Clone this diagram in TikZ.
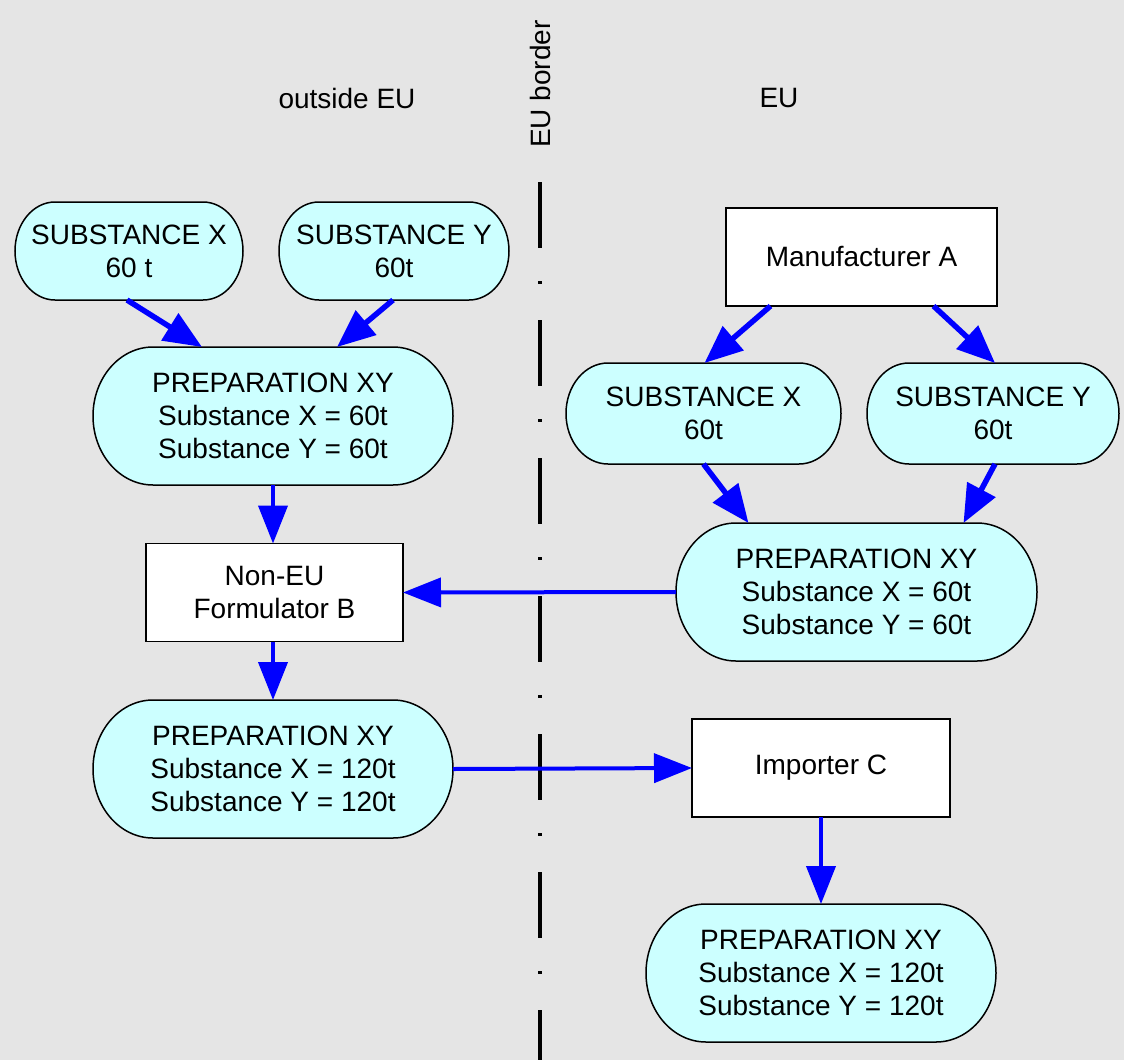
\documentclass[tikz,border=0pt]{standalone}
\usepackage{fontspec}
\setmainfont{Liberation Sans}
\usetikzlibrary{arrows.meta,calc,backgrounds}
\definecolor{bggray}{HTML}{E5E5E5}
\definecolor{lightcyan}{HTML}{CCFFFF}
\definecolor{flowblue}{HTML}{0000FF}
\newcommand\stadbg[2]{%
  \path[stadfill] let \p1=(#1.north west), \p2=(#1.south east), \n1={(\y1-\y2)/2} in
    (\x1+#2,\y1) -- (\x2-#2,\y1)
    arc[start angle=90,end angle=-90,x radius=#2,y radius={\n1*1pt}]
    -- (\x1+#2,\y2)
    arc[start angle=270,end angle=90,x radius=#2,y radius={\n1*1pt}] -- cycle;}
\begin{document}
\begin{tikzpicture}[x=1pt,y=-1pt,
  every node/.style={font=\fontsize{28}{33}\selectfont, align=center, inner sep=0pt, outer sep=0pt},
  stadtext/.style={minimum width=#1, draw=none},
  stadfill/.style={fill=lightcyan, draw=black, line width=1.5pt},
  boxnode/.style={draw=black, fill=white, line width=1.5pt, minimum width=#1, minimum height=98pt},
  flow/.style={draw=flowblue, line width=4pt, -{Triangle[length=38pt,width=29pt]}},
  diagflow/.style={flow, line width=5.5pt, -{Triangle[length=38pt,width=31pt]}},
  borderline/.style={draw=black, line width=4.5pt, dash pattern=on 66pt off 33pt on 3pt off 36pt}
]
\useasboundingbox (0,0) rectangle (1124,1060);

% labels
\node (outside) at (347,98) {outside EU};
\node (eu) at (779,98) {EU};
\node[rotate=90] (eulabel) at (540,84) {EU border};

% left column
\node[stadtext=228pt, minimum height=98pt] (SubXL) at (129,251) {SUBSTANCE X\\60 t};
\node[stadtext=230pt, minimum height=98pt] (SubYL) at (394,251) {SUBSTANCE Y\\60t};
\node[stadtext=360pt, minimum height=138pt] (PrepL1) at (273,416) {PREPARATION XY\\Substance X = 60t\\Substance Y = 60t};
\node[boxnode=257pt] (NonEU) at (274.5,592.5) {Non-EU\\Formulator B};
\node[stadtext=360pt, minimum height=138pt] (PrepL2) at (273,769) {PREPARATION XY\\Substance X = 120t\\Substance Y = 120t};

% right column
\node[boxnode=271pt] (Manu) at (861.5,257) {Manufacturer A};
\node[stadtext=275pt, minimum height=101pt] (SubXR) at (703.5,413.5) {SUBSTANCE X\\60t};
\node[stadtext=252pt, minimum height=101pt] (SubYR) at (993,413.5) {SUBSTANCE Y\\60t};
\node[stadtext=361pt, minimum height=138pt] (PrepR1) at (856.5,592) {PREPARATION XY\\Substance X = 60t\\Substance Y = 60t};
\node[boxnode=258pt] (Importer) at (821,768) {Importer C};
\node[stadtext=350pt, minimum height=138pt] (PrepR2) at (821,973) {PREPARATION XY\\Substance X = 120t\\Substance Y = 120t};

\coordinate (borderTop) at (540,182);
\coordinate (borderBot) at (540,1060);

\begin{scope}[on background layer]
  \fill[bggray] (0,0) rectangle (1124,1060);
  \stadbg{SubXL}{40pt}
  \stadbg{SubYL}{40pt}
  \stadbg{PrepL1}{60pt}
  \stadbg{PrepL2}{60pt}
  \stadbg{SubXR}{42pt}
  \stadbg{SubYR}{42pt}
  \stadbg{PrepR1}{60pt}
  \stadbg{PrepR2}{60pt}
  \path[borderline] (borderTop) -- (borderBot);
\end{scope}

% connectors
\path[diagflow] ([xshift=-2pt]SubXL.south) -- ([xshift=-71pt]PrepL1.north);
\path[diagflow] ([xshift=-1pt]SubYL.south) -- ([xshift=64pt]PrepL1.north);
\path[flow] (PrepL1.south) -- ([xshift=-1.5pt]NonEU.north);
\path[flow] ([xshift=-1.5pt]NonEU.south) -- (PrepL2.north);
\path[flow] (PrepR1.west) -- (NonEU.east);
\path[flow] (PrepL2.east) -- (Importer.west);
\path[diagflow] ([xshift=-91pt]Manu.south) -- ([xshift=1pt]SubXR.north);
\path[diagflow] ([xshift=72pt]Manu.south) -- ([xshift=2pt]SubYR.north);
\path[diagflow] (SubXR.south) -- ([xshift=-108pt]PrepR1.north);
\path[diagflow] ([xshift=2pt]SubYR.south) -- ([xshift=107pt]PrepR1.north);
\path[flow] (Importer.south) -- (PrepR2.north);
\end{tikzpicture}
\end{document}
